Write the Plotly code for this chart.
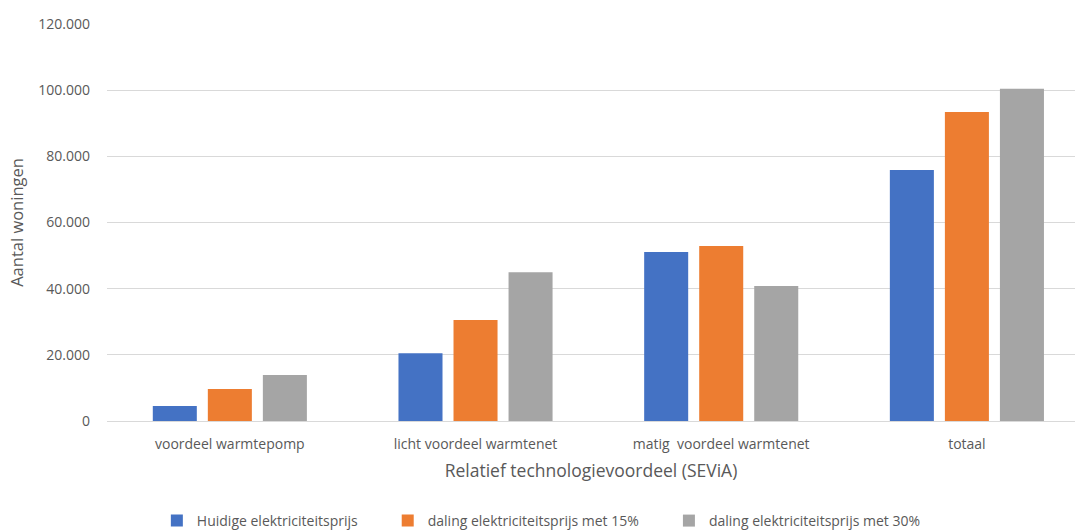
import plotly.graph_objects as go

categories = ["voordeel warmtepomp", "licht voordeel warmtenet", "matig  voordeel warmtenet", "totaal"]
series_names = ["Huidige elektriciteitsprijs", "daling elektriciteitsprijs met 15%", "daling elektriciteitsprijs met 30%"]
huidige = [4500, 20500, 51100, 75900]
daling15 = [9700, 30500, 52900, 93400]
daling30 = [13900, 45000, 40800, 100400]
colors = ["#4472C4", "#ED7D31", "#A5A5A5"]
ytick_vals = [0, 20000, 40000, 60000, 80000, 100000, 120000]

legend_ids = ["legend", "legend2", "legend3"]
legend_x = [0.0515, 0.290, 0.5805]

fig = go.Figure()
for name, vals, c, lg in zip(series_names, [huidige, daling15, daling30], colors, legend_ids):
    fig.add_trace(go.Bar(x=categories, y=vals, name=name, legend=lg, showlegend=True,
                         marker=dict(color=c, line=dict(width=0))))

font = "'Open Sans', sans-serif"
layout_legends = {}
for lg, lx in zip(legend_ids, legend_x):
    layout_legends[lg] = dict(orientation="h", x=lx, xanchor="left", y=0.017, yanchor="middle",
                              yref="container", font=dict(size=14, color="#595959"),
                              bgcolor="rgba(0,0,0,0)")

fig.update_layout(
    width=1075, height=530,
    showlegend=True,
    margin=dict(l=107, r=0, t=24, b=109),
    plot_bgcolor="white", paper_bgcolor="white",
    separators=",.",
    barmode="group", bargap=0.328, bargroupgap=0.2,
    font=dict(family=font, size=14, color="#595959"),
    xaxis=dict(
        range=[-0.5, 3.44], showgrid=False, showline=False, ticks="", automargin=False,
        ticklabelstandoff=13,
        tickfont=dict(size=14, color="#595959"),
        title=dict(text="Relatief technologievoordeel (SEViA)", font=dict(size=17.5, color="#595959"), standoff=12),
    ),
    yaxis=dict(
        range=[0, 120000], tickvals=ytick_vals, tickformat=",d", automargin=False,
        gridcolor="#D9D9D9", gridwidth=1, zeroline=True, zerolinecolor="#D9D9D9", zerolinewidth=1,
        showline=False, ticks="", ticklabelstandoff=16,
        tickfont=dict(size=14, color="#595959"),
        title=dict(text="Aantal woningen", font=dict(size=16.5, color="#595959"), standoff=10),
    ),
    **layout_legends,
)
fig.write_html("out.html")
